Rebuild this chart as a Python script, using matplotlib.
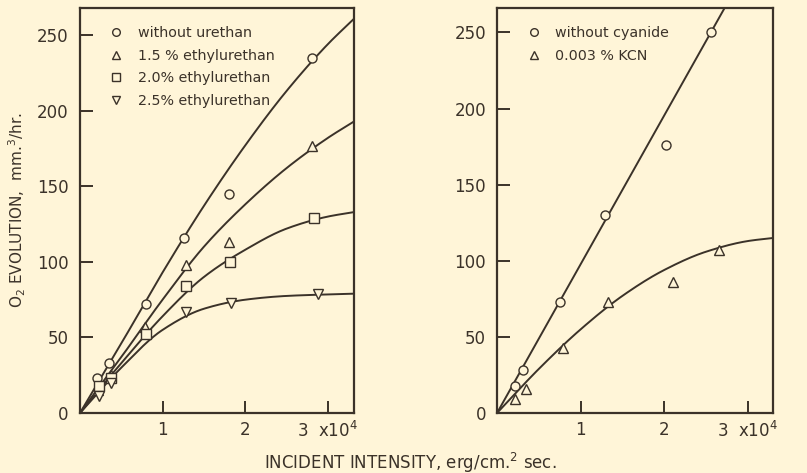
import numpy as np
import matplotlib
matplotlib.use("Agg")
import matplotlib.pyplot as plt
from matplotlib.lines import Line2D

BG = "#FFF5D8"
INK = "#3b3229"
plt.rcParams['font.family'] = ['DejaVu Sans']

# ---------------- data (x in units of 10^4 erg/cm^2 sec) ----------------
# Left panel: urethan series (measured points)
urethan_labels = ["without urethan", "1.5 % ethylurethan", "2.0% ethylurethan", "2.5% ethylurethan"]
urethan_markers = ["o", "^", "s", "v"]
u0_x = [0.21, 0.35, 0.80, 1.26, 1.80, 2.81]
u0_y = [23, 33, 72, 116, 145, 235]
u15_x = [0.22, 0.37, 0.79, 1.28, 1.80, 2.81]
u15_y = [15, 25, 57, 98, 113, 177]
u20_x = [0.23, 0.37, 0.80, 1.29, 1.82, 2.84]
u20_y = [18, 23, 52, 84, 100, 129]
u25_x = [0.23, 0.38, 1.29, 1.83, 2.88]
u25_y = [11, 20, 67, 73, 79]

# Left panel: fitted curves
curve_x = [0, 0.5, 1.0, 1.5, 2.0, 2.5, 3.0, 3.32]
c0_y = [0, 46, 93, 137, 177, 213, 244, 261]
c15_y = [0, 37, 75, 110, 138, 162, 182, 193]
c20_y = [0, 33, 64, 90, 108, 122, 130, 133]
c25_y = [0, 30, 55, 69, 75, 77.5, 78.5, 79]

# Right panel: cyanide series
cyan_labels = ["without cyanide", "0.003 % KCN"]
cyan_markers = ["o", "^"]
k0_x = [0.22, 0.31, 0.75, 1.29, 2.02, 2.56]
k0_y = [18, 28, 73, 130, 176, 250]
k3_x = [0.22, 0.35, 0.79, 1.33, 2.10, 2.65]
k3_y = [9, 16, 43, 73, 86, 107]

line0_x = [0, 2.72]
line0_y = [0, 266]
ck_x = [0, 0.5, 1.0, 1.5, 2.0, 2.5, 3.0, 3.3]
ck3_y = [0, 29, 55, 77, 94, 106, 113, 115]

xticks = [1, 2, 3]
xticklabels = ["1", "2", "3  x10$^4$"]
yticks = [0, 50, 100, 150, 200, 250]
yticklabels = ["0", "50", "100", "150", "200", "250"]


def pchip(x, y, xs):
    x = np.asarray(x, float); y = np.asarray(y, float)
    h = np.diff(x); d = np.diff(y) / h
    m = np.zeros_like(y)
    for k in range(1, len(x) - 1):
        if d[k - 1] * d[k] > 0:
            w1 = 2 * h[k] + h[k - 1]; w2 = h[k] + 2 * h[k - 1]
            m[k] = (w1 + w2) / (w1 / d[k - 1] + w2 / d[k])
    m[0] = d[0]; m[-1] = d[-1]
    idx = np.clip(np.searchsorted(x, xs) - 1, 0, len(h) - 1)
    t = (xs - x[idx]) / h[idx]
    h00 = 2 * t**3 - 3 * t**2 + 1; h10 = t**3 - 2 * t**2 + t
    h01 = -2 * t**3 + 3 * t**2; h11 = t**3 - t**2
    return h00 * y[idx] + h10 * h[idx] * m[idx] + h01 * y[idx + 1] + h11 * h[idx] * m[idx + 1]


fig = plt.figure(figsize=(8.07, 4.73), dpi=100, facecolor=BG)
axL = fig.add_axes([0.0991, 0.1268, 0.3396, 0.856])
axR = fig.add_axes([0.6159, 0.1268, 0.342, 0.856])

mk = dict(markersize=6.5, markerfacecolor=BG, markeredgecolor=INK, markeredgewidth=1.0,
          linestyle="none", zorder=3)


def style(ax, xmax, ymax):
    ax.set_facecolor(BG)
    ax.set_xlim(0, xmax)
    ax.set_ylim(0, ymax)
    for s in ax.spines.values():
        s.set_color(INK); s.set_linewidth(1.6)
    ax.set_xticks(xticks)
    ax.set_xticklabels(xticklabels)
    ax.set_yticks(yticks)
    ax.set_yticklabels(yticklabels)
    ax.tick_params(direction="in", length=9, width=1.4, color=INK, labelcolor=INK,
                   labelsize=12)
    ax.tick_params(axis="y", pad=8)
    ax.tick_params(axis="x", pad=6)


style(axL, 3.32, 268)
style(axR, 3.30, 266)

xs = np.linspace(0, 3.32, 300)
for cy in (c0_y, c15_y, c20_y, c25_y):
    axL.plot(xs, pchip(curve_x, cy, xs), color=INK, lw=1.4, zorder=2)
for (px, py), m in zip([(u0_x, u0_y), (u15_x, u15_y), (u20_x, u20_y), (u25_x, u25_y)], urethan_markers):
    axL.plot(px, py, marker=m, **mk)

axR.plot(line0_x, line0_y, color=INK, lw=1.4, zorder=2)
xs2 = np.linspace(0, 3.3, 300)
axR.plot(xs2, pchip(ck_x, ck3_y, xs2), color=INK, lw=1.4, zorder=2)
for (px, py), m in zip([(k0_x, k0_y), (k3_x, k3_y)], cyan_markers):
    axR.plot(px, py, marker=m, **mk)


def legend(ax, labels, markers):
    handles = [Line2D([], [], marker=m, markersize=5.5, markerfacecolor=BG,
                      markeredgecolor=INK, markeredgewidth=1.0, linestyle="none")
               for m in markers]
    leg = ax.legend(handles, labels, loc="upper left", bbox_to_anchor=(0.07, 0.98),
                    frameon=False, fontsize=10.3, handlelength=1.0, handletextpad=1.0,
                    labelspacing=0.6, borderaxespad=0.3)
    for t in leg.get_texts():
        t.set_color(INK)


legend(axL, urethan_labels, urethan_markers)
legend(axR, cyan_labels, cyan_markers)

fig.text(0.021, 0.555, "O$_2$ EVOLUTION,  mm.$^3$/hr.", rotation=90, ha="center", va="center",
         fontsize=11, color=INK)
fig.text(0.508, 0.022, "INCIDENT INTENSITY, erg/cm.$^2$ sec.", ha="center", va="center",
         fontsize=12, color=INK)

fig.savefig("out.png", dpi=100, facecolor=BG)
